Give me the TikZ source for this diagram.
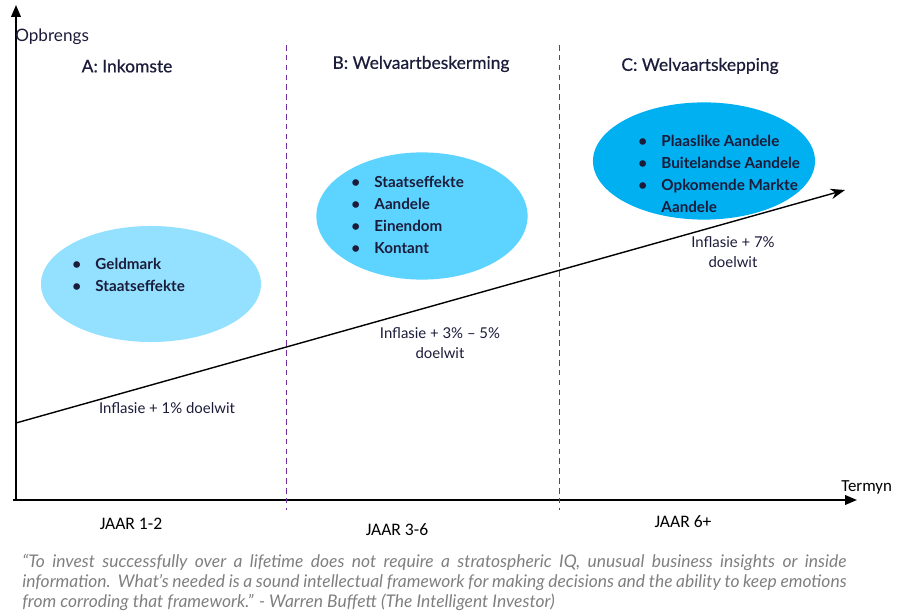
\documentclass[tikz,border=0pt]{standalone}
\usepackage{fontspec}
\setmainfont{Lato}
\newfontfamily\calibri{Carlito}
\newfontfamily\latosemi[FakeBold=0.5]{Lato}
\usetikzlibrary{arrows.meta, shapes.geometric}

\definecolor{paleblue}{HTML}{93E1FF}
\definecolor{midblue}{HTML}{5DD4FF}
\definecolor{deepblue}{HTML}{00B0F0}
\definecolor{phaseline}{HTML}{7030A0}
\definecolor{inknavy}{HTML}{1B1B3A}
\definecolor{quotegray}{HTML}{7F7F7F}

\newcommand{\blt}{\makebox[16.5pt][l]{\textbullet}}
\newcommand{\nobl}{\makebox[16.5pt][l]{}}
\newcommand{\qline}[1]{\makebox[20.6cm][s]{#1}}

\begin{document}
\begin{tikzpicture}[
    x=0.025cm, y=-0.025cm,
    axis/.style={
        -{Triangle[length=3mm, width=2.4mm]},
        line width=1.4pt,
        draw=black
    },
    phase/.style={
        draw=phaseline,
        line width=0.7pt,
        dash pattern=on 4pt off 3pt
    },
    trend/.style={
        -{Stealth[length=3.6mm, width=2.6mm]},
        line width=1pt,
        draw=black
    },
    bubble/.style={
        ellipse,
        draw=none,
        inner sep=0pt
    },
    heading/.style={
        font=\latosemi\fontsize{12.4}{14}\selectfont,
        text=inknavy
    },
    assets/.style={
        font=\fontsize{10.8}{15.6}\selectfont\bfseries,
        text=inknavy,
        align=left,
        anchor=west,
        inner sep=0pt
    },
    target/.style={
        font=\fontsize{10.6}{14.2}\selectfont,
        text=inknavy,
        align=center,
        inner sep=0pt
    },
    period/.style={
        font=\calibri\fontsize{12.5}{14}\selectfont,
        text=black,
        inner sep=0pt
    }
]
\useasboundingbox (0,0) rectangle (904,616);

% --- Axes -------------------------------------------------------------------
\coordinate (origin) at (16,500);
\coordinate (ytop)   at (16,5);
\coordinate (xleft)  at (13,500);
\coordinate (xright) at (857,500);

\draw[axis] (origin) -- (ytop);
\draw[axis] (xleft) -- (xright);

\node[font=\fontsize{12.2}{14}\selectfont, text=inknavy, anchor=west, inner sep=0pt]
    (yname) at (15,37) {Opbrengs};
\node[font=\calibri\fontsize{12}{14}\selectfont, anchor=west, inner sep=0pt]
    (xname) at (841,487) {Termyn};

% --- Phase separators -------------------------------------------------------
\coordinate (sepAtop) at (286,45);
\coordinate (sepAbot) at (286,510);
\coordinate (sepBtop) at (559,45);
\coordinate (sepBbot) at (559,510);

\draw[phase] (sepAtop) -- (sepAbot);
\draw[phase] (sepBtop) -- (sepBbot);

% --- Phase headings ---------------------------------------------------------
\node[heading] (headA) at (127,66) {A: Inkomste};
\node[heading] (headB) at (421,64) {B: Welvaartbeskerming};
\node[heading] (headC) at (700,66) {C: Welvaartskepping};

% --- Asset bubbles ----------------------------------------------------------
\node[bubble, fill=paleblue, minimum width=5.5cm, minimum height=2.9cm]
    (bubA) at (151,284) {};
\node[bubble, fill=midblue, minimum width=5.28cm, minimum height=3.18cm]
    (bubB) at (422,216) {};
\node[bubble, fill=deepblue, minimum width=5.55cm, minimum height=2.93cm]
    (bubC) at (704,161) {};

\node[assets] (listA) at (72,275)
    {\blt Geldmark\\ \blt Staatseffekte};
\node[assets] (listB) at (351,215)
    {\blt Staatseffekte\\ \blt Aandele\\ \blt Einendom\\ \blt Kontant};
\node[assets] (listC) at (638,174)
    {\blt Plaaslike Aandele\\ \blt Buitelandse Aandele\\
     \blt Opkomende Markte\\ \nobl Aandele};

% --- Return trend -----------------------------------------------------------
\coordinate (trendstart) at (16,423);
\coordinate (trendend)   at (845,190);

\draw[trend] (trendstart) -- (trendend);

\node[target] (goalA) at (167,408) {Inflasie + 1\% doelwit};
\node[target] (goalB) at (440,343) {Inflasie + 3\% -- 5\%\\doelwit};
\node[target] (goalC) at (733,252) {Inflasie + 7\%\\doelwit};

% --- Periods ----------------------------------------------------------------
\node[period] (yrsA) at (131,524) {JAAR 1-2};
\node[period] (yrsB) at (397,530) {JAAR 3-6};
\node[period] (yrsC) at (683,522) {JAAR 6+};

% --- Quote ------------------------------------------------------------------
\node[font=\itshape\fontsize{12.4}{14.2}\selectfont, text=quotegray,
      align=left, anchor=north west, inner sep=0pt]
    (quote) at (22,554)
    {\qline{“To invest successfully over a lifetime does not require a stratospheric IQ,
     unusual business insights or inside}\\
     \qline{information.\ \ What’s needed is a sound intellectual framework for making
     decisions and the ability to keep emotions}\\
     from corroding that framework.” - Warren Buffett (The Intelligent Investor)};

\end{tikzpicture}
\end{document}
